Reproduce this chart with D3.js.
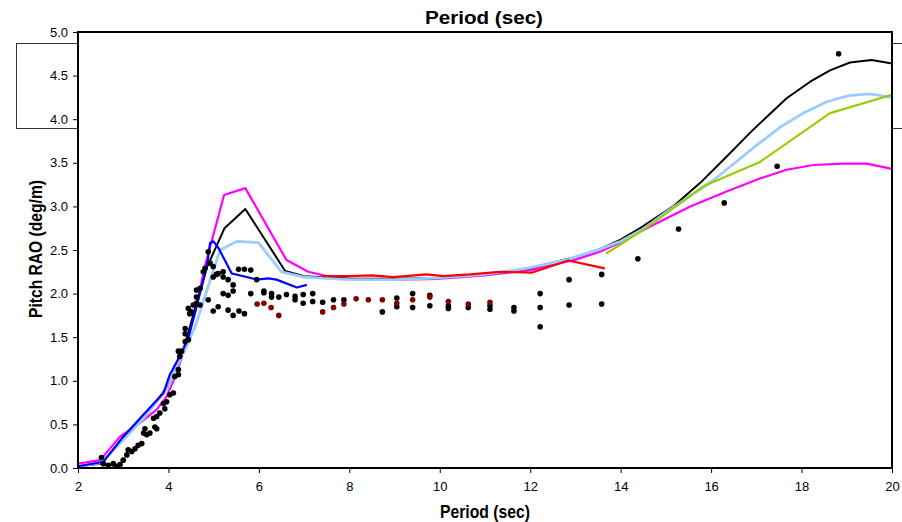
<!DOCTYPE html>
<html><head><meta charset="utf-8">
<script src="https://cdn.jsdelivr.net/npm/d3@7"></script>
<style>body{margin:0;background:#fff}svg{display:block}text{font-family:"Liberation Sans",Arial,sans-serif}</style>
</head><body><svg id="c" width="902" height="522"></svg>
<script>
const xTicks = [2,4,6,8,10,12,14,16,18,20];
const yTicks = [0,0.5,1,1.5,2,2.5,3,3.5,4,4.5,5];
const titleText = "Period (sec)";
const xLabel = "Period (sec)";
const yLabel = "Pitch RAO (deg/m)";

const blackLine = [[2,0.02],[2.5,0.05],[3,0.33],[3.5,0.6],[4,0.95],[4.3,1.3],[4.6,1.85],[4.85,2.3],[5.24,2.75],[5.7,2.97],[6.58,2.26],[7,2.2],[8,2.17],[9,2.17],[10,2.18],[11,2.22],[12,2.29],[13,2.42],[13.54,2.51],[14,2.62],[14.43,2.75],[15.16,3.0],[15.76,3.27],[16.34,3.57],[16.93,3.88],[17.67,4.24],[18.19,4.43],[18.63,4.56],[19.07,4.65],[19.55,4.68],[20,4.64]];
const magentaLine = [[2,0.05],[2.49,0.09],[2.93,0.36],[3.3,0.49],[3.74,0.67],[3.96,0.82],[4.18,1.09],[4.37,1.39],[4.6,1.8],[4.8,2.3],[5.23,3.13],[5.7,3.21],[6.61,2.385],[7.09,2.25],[7.5,2.2],[8,2.17],[9,2.16],[10,2.17],[11,2.21],[12,2.27],[13,2.39],[13.54,2.48],[14,2.59],[14.65,2.77],[15.54,3.0],[16.34,3.17],[17.08,3.32],[17.67,3.42],[18.26,3.475],[18.92,3.49],[19.44,3.49],[20,3.43]];
const lightBlueLine = [[2,0.02],[2.5,0.06],[3,0.32],[3.5,0.6],[4,0.93],[4.2,1.18],[4.45,1.45],[4.59,1.62],[5.14,2.5],[5.52,2.6],[5.99,2.585],[6.5,2.25],[7,2.19],[8,2.16],[9,2.16],[10,2.18],[11,2.22],[11.92,2.29],[12.81,2.39],[13.54,2.51],[14,2.6],[14.5,2.74],[15.02,2.94],[16.05,3.30],[16.93,3.67],[17.53,3.91],[18.04,4.07],[18.56,4.20],[19.04,4.27],[19.51,4.29],[20,4.25]];
const redLine = [[7.4,2.2],[8,2.2],[8.5,2.21],[8.97,2.19],[9.71,2.22],[10.08,2.2],[10.67,2.22],[11.33,2.25],[12.03,2.24],[12.84,2.38],[13.65,2.29]];
const blueLine = [[2,0.02],[2.56,0.07],[2.97,0.34],[3.48,0.63],[3.89,0.86],[4.03,1.07],[4.29,1.32],[4.44,1.49],[4.62,1.85],[4.85,2.31],[4.92,2.58],[4.99,2.6],[5.1,2.53],[5.4,2.23],[5.73,2.19],[5.95,2.16],[6.21,2.175],[6.39,2.16],[6.84,2.07],[7.06,2.10]];
const greenLine = [[13.68,2.46],[14.5,2.73],[15.83,3.23],[17.08,3.51],[18.63,4.07],[20,4.28]];

const blackDots = [[2.52,0.12],[2.56,0.05],[2.67,0.03],[2.78,0.05],[2.85,0.02],[2.93,0.04],[3.00,0.09],[3.08,0.15],[3.11,0.21],[3.19,0.19],[3.26,0.22],[3.33,0.26],[3.41,0.28],[3.45,0.40],[3.52,0.38],[3.59,0.40],[3.48,0.45],[3.74,0.45],[3.70,0.47],[3.67,0.57],[3.74,0.59],[3.81,0.63],[3.92,0.68],[3.89,0.74],[3.96,0.76],[4.03,0.84],[4.11,0.86],
[4.14,1.05],[4.22,1.07],[4.22,1.13],[4.25,1.28],[4.22,1.34],[4.29,1.34],[4.37,1.45],[4.44,1.47],[4.37,1.54],[4.37,1.60],[4.47,1.77],[4.51,1.79],[4.44,1.83],[4.55,1.87],[4.62,1.89],[4.70,1.87],[4.62,1.96],[4.62,2.04],[4.70,2.06],[4.88,1.93],[4.99,1.80],[5.10,1.85],[5.21,2.00],[5.32,1.98],[5.32,1.81],
[4.77,2.25],[4.81,2.29],[4.88,2.48],[4.99,2.31],[5.06,2.22],[4.92,2.35],
[5.21,2.25],[5.10,2.23],[4.99,2.19],[5.21,2.19],[5.32,2.16],[5.43,2.10],[5.43,2.03],[5.43,1.75],[5.56,1.80],[5.68,1.77],[5.55,2.28],[5.68,2.28],[5.82,2.27],[5.82,2.00],[5.95,2.16],[6.11,2.03],[6.11,2.01],[6.28,2.00],[6.28,1.96],[6.44,1.96],[6.61,1.99],[6.80,1.97],[6.80,1.93],[6.98,1.99],[6.98,1.89],[7.19,2.00],[7.19,1.91],[7.41,1.90],[7.65,1.93],[7.88,1.93],
[8.73,1.79],[9.05,1.95],[9.05,1.85],[9.40,2.00],[9.40,1.84],[9.78,1.98],[9.78,1.86],[10.19,1.86],[10.19,1.83],[10.63,1.84],[11.11,1.86],[11.11,1.82],[11.64,1.84],[11.64,1.80],[12.22,2.00],[12.22,1.84],[12.22,1.62],[12.86,2.16],[12.86,1.87],[13.58,2.22],[13.58,1.88],
[14.38,2.40],[15.28,2.74],[16.29,3.04],[17.46,3.46],[18.82,4.75]];
const darkRedDots = [[5.96,1.88],[6.11,1.89],[6.27,1.84],[6.44,1.75],[7.41,1.79],[7.65,1.84],[7.88,1.88],[8.15,1.94],[8.42,1.93],[8.73,1.93],[9.05,1.89],[9.40,1.93],[9.78,1.96],[10.19,1.91],[10.63,1.88],[11.11,1.90]];

const svg = d3.select("#c");
const L=78, R=892, T=32, B=468;
const x = d3.scaleLinear().domain([2,20]).range([L,R]);
const y = d3.scaleLinear().domain([0,5]).range([B,T]);

// background frame partially hidden
svg.append("rect").attr("x",16.5).attr("y",43.5).attr("width",900).attr("height",85)
  .attr("fill","none").attr("stroke","#333").attr("stroke-width",1);
svg.append("rect").attr("x",L).attr("y",T).attr("width",R-L).attr("height",B-T).attr("fill","#fff");

svg.append("defs").append("clipPath").attr("id","pc").append("rect")
  .attr("x",L).attr("y",T-6).attr("width",R-L+4).attr("height",B-T+6);

const g = svg.append("g").attr("clip-path","url(#pc)");
const line = d3.line().x(d=>x(d[0])).y(d=>y(d[1]));
const series = [
  {d:magentaLine,c:"#ff00ff",w:2.2},
  {d:blackLine,c:"#000000",w:2},
  {d:lightBlueLine,c:"#99ccff",w:2.8},
  {d:redLine,c:"#ff0000",w:2.2},
  {d:blueLine,c:"#0000ff",w:2.2},
  {d:greenLine,c:"#99cc00",w:2.2}
];
series.forEach(s=>g.append("path").datum(s.d).attr("d",line).attr("fill","none")
  .attr("stroke",s.c).attr("stroke-width",s.w).attr("stroke-linejoin","round"));

g.selectAll("circle.b").data(blackDots).join("circle").attr("class","b")
  .attr("cx",d=>x(d[0])).attr("cy",d=>y(d[1])).attr("r",2.8).attr("fill","#000");
g.selectAll("circle.r").data(darkRedDots).join("circle").attr("class","r")
  .attr("cx",d=>x(d[0])).attr("cy",d=>y(d[1])).attr("r",2.8).attr("fill","#800000");

// axes
const xa = svg.append("g").attr("transform",`translate(0,${B})`)
  .call(d3.axisBottom(x).tickValues(xTicks).tickSize(5).tickSizeOuter(0).tickPadding(9));
const ya = svg.append("g").attr("transform",`translate(${L},0)`)
  .call(d3.axisLeft(y).tickValues(yTicks).tickFormat(d3.format(".1f")).tickSize(5).tickSizeOuter(0).tickPadding(5));
[xa,ya].forEach(a=>{a.select(".domain").remove();a.selectAll("line").attr("stroke","#000");
  a.selectAll("text").attr("font-size",13).attr("fill","#000").attr("font-family","Liberation Sans, Arial, sans-serif");});

// frame
svg.append("rect").attr("x",L).attr("y",T).attr("width",R-L).attr("height",B-T)
  .attr("fill","none").attr("stroke","#000").attr("stroke-width",2);

svg.append("text").attr("x",484).attr("y",24).attr("text-anchor","middle")
  .attr("font-size",18).attr("font-weight","bold")
  .attr("textLength",118).attr("lengthAdjust","spacingAndGlyphs").text(titleText);
svg.append("text").attr("x",485).attr("y",518).attr("text-anchor","middle")
  .attr("font-size",18).attr("font-weight","bold")
  .attr("textLength",90).attr("lengthAdjust","spacingAndGlyphs").text(xLabel);
svg.append("text").attr("transform","translate(42,249) rotate(-90)").attr("text-anchor","middle")
  .attr("font-size",18).attr("font-weight","bold")
  .attr("textLength",138).attr("lengthAdjust","spacingAndGlyphs").text(yLabel);
</script></body></html>
